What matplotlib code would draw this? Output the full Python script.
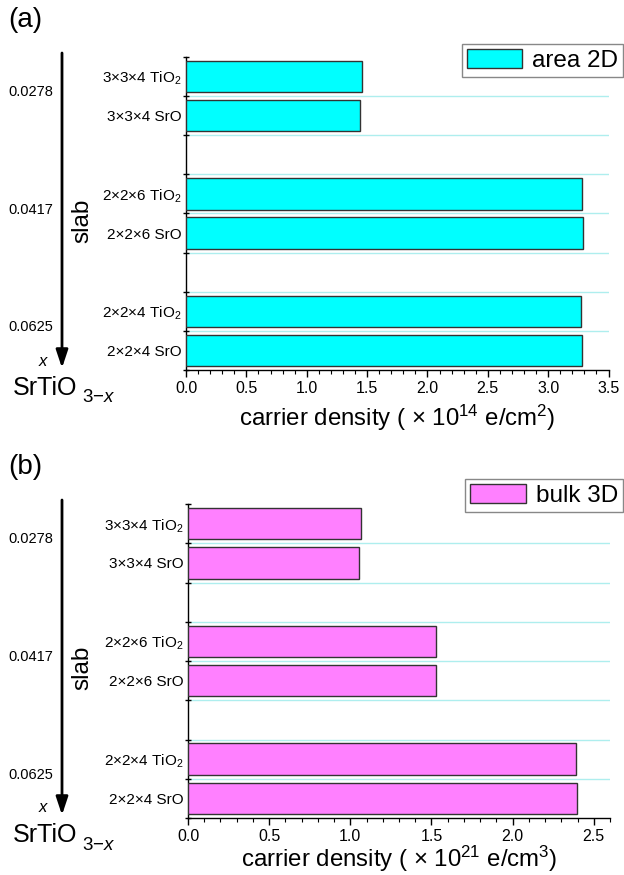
import matplotlib
matplotlib.use('Agg')
import matplotlib.pyplot as plt
from matplotlib.ticker import MultipleLocator
from matplotlib.transforms import blended_transform_factory

plt.rcParams['font.family'] = ['Liberation Sans', 'DejaVu Sans']
plt.rcParams['mathtext.fontset'] = 'custom'
plt.rcParams['mathtext.rm'] = 'Liberation Sans'
plt.rcParams['mathtext.it'] = 'Liberation Sans:italic'

# bars listed bottom to top
slab_labels = ['2×2×4 SrO', '2×2×4 TiO$_2$', '2×2×6 SrO', '2×2×6 TiO$_2$',
               '3×3×4 SrO', '3×3×4 TiO$_2$']
slot_index = [0, 1, 3, 4, 6, 7]
area_2d = [3.278, 3.270, 3.292, 3.278, 1.442, 1.456]
bulk_3d = [2.396, 2.392, 1.530, 1.525, 1.052, 1.065]
x_labels = ['0.0625', '0.0417', '0.0278']
group_center = [1, 4, 7]

W, H = 624, 875


def fx(px):
    return px / W


def fy(py):
    return 1 - py / H


def draw_panel(fig, rect, values, color, xmax, xlabel, legend_label, legend_top, yoff,
               letter, labelpad):
    ax = fig.add_axes(rect)
    pos = [i + 0.5 for i in slot_index]
    ax.barh(pos, values, height=0.8, color=color, edgecolor='#333333', linewidth=1,
            label=legend_label, zorder=3)
    ax.set_ylim(0, 8)
    ax.set_xlim(0, xmax)
    ax.set_yticks(range(9))
    ax.set_yticks(pos, slab_labels, minor=True)
    ax.xaxis.set_major_locator(MultipleLocator(0.5))
    ax.xaxis.set_minor_locator(MultipleLocator(0.1))
    ax.tick_params(axis='x', which='major', direction='out', length=5, width=1,
                   labelsize=11.5, pad=3)
    ax.tick_params(axis='x', which='minor', direction='out', length=3, width=0.8)
    ax.tick_params(axis='y', which='major', direction='inout', length=5, width=1,
                   labelleft=False)
    ax.tick_params(axis='y', which='minor', length=0, labelsize=11, pad=3)
    ax.grid(axis='y', which='major', color='#aeeeee', linewidth=1, zorder=0)
    gl = ax.get_ygridlines()
    gl[0].set_visible(False)
    gl[-1].set_visible(False)
    for s in ['top', 'right']:
        ax.spines[s].set_visible(False)
    for s in ['left', 'bottom']:
        ax.spines[s].set_linewidth(1)
    ax.set_xlabel(xlabel, fontsize=17.3, labelpad=labelpad)

    ax.legend(loc='upper right', bbox_to_anchor=(fx(623), fy(legend_top)),
              bbox_transform=fig.transFigure, borderaxespad=0, fontsize=17.5,
              fancybox=False, edgecolor='#888888', framealpha=1,
              handlelength=2.3, handleheight=0.85, handletextpad=0.4, borderpad=0.2)

    # x values of each group, left of the arrow
    trans = blended_transform_factory(fig.transFigure, ax.transData)
    for lab, yc in zip(x_labels, group_center):
        ax.text(fx(8), yc + 0.1, lab, transform=trans, fontsize=10.5,
                va='center', ha='left')

    ax.annotate('', xy=(fx(62), fy(368 + yoff)), xytext=(fx(62), fy(53 + yoff)),
                xycoords='figure fraction',
                arrowprops=dict(arrowstyle='-|>,head_length=0.6,head_width=0.2',
                                lw=2, color='black', mutation_scale=18, shrinkA=0, shrinkB=0))
    fig.text(fx(44), fy(361 + yoff), '$x$', fontsize=12, ha='center', va='center')
    fig.text(fx(13), fy(388 + yoff), 'SrTiO', fontsize=18, ha='left', va='center')
    fig.text(fx(82), fy(398 + yoff), '$3{-}x$', fontsize=13.5, ha='left', va='center')
    fig.text(fx(82), fy(221 + yoff), 'slab', fontsize=17.5, rotation=90,
             ha='center', va='center')
    fig.text(fx(8), fy(20 + yoff), letter, fontsize=20, ha='left', va='center')
    return ax


fig = plt.figure(figsize=(6.24, 8.75), dpi=100)

draw_panel(fig, [fx(186), fy(370), fx(608.5 - 186), (370 - 57) / H], area_2d, '#00ffff', 3.5,
           r'carrier density ( $\times$ 10$^{14}$ e/cm$^{2}$)', 'area 2D', 44, 0, '(a)', 5)
draw_panel(fig, [fx(188), fy(818), fx(610 - 188), (818 - 504) / H], bulk_3d, '#ff80ff', 2.6,
           r'carrier density ( $\times$ 10$^{21}$ e/cm$^{3}$)', 'bulk 3D', 479, 447, '(b)', 0)

fig.savefig('out.png', dpi=100)
